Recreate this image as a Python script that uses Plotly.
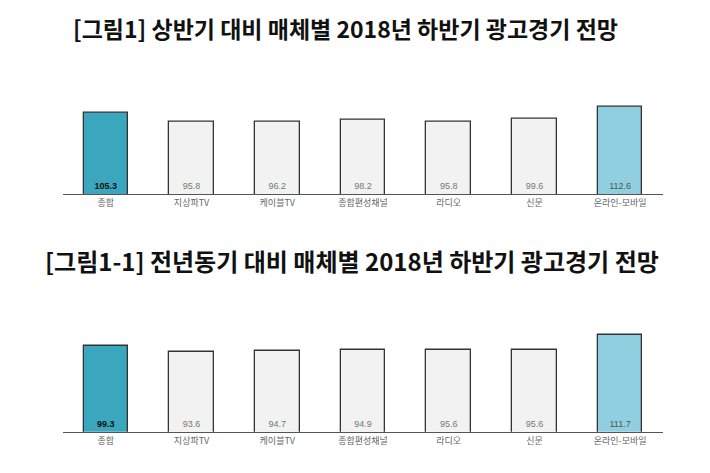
import plotly.graph_objects as go

categories = ["종합", "지상파TV", "케이블TV", "종합편성채널", "라디오", "신문", "온라인-모바일"]
vs_prev_half = [105.3, 95.8, 96.2, 98.2, 95.8, 99.6, 112.6]
vs_prev_year = [99.3, 93.6, 94.7, 94.9, 95.6, 95.6, 111.7]

title_1 = "[그림1] 상반기 대비 매체별 2018년 하반기 광고경기 전망"
title_2 = "[그림1-1] 전년동기 대비 매체별 2018년 하반기 광고경기 전망"

bar_colors = ["#3ba7bf"] + ["#f2f2f2"] * 5 + ["#8fcfe0"]
text_colors = ["#111111"] + ["#777777"] * 5 + ["#555555"]
font = "Noto Sans CJK KR"

fig = go.Figure()
for vals, ax, lo in [(vs_prev_half, "", 16), (vs_prev_year, "2", 8)]:
    fig.add_trace(go.Bar(
        x=categories, y=vals, width=0.52,
        xaxis="x" + ax, yaxis="y" + ax,
        marker=dict(color=bar_colors, line=dict(color="#333333", width=1.3)),
        hoverinfo="skip", showlegend=False,
    ))
    # value labels near the bottom of each bar
    fig.add_trace(go.Scatter(
        x=categories, y=[lo + 8] * len(vals), mode="text",
        text=[f"<b>{v:.1f}</b>" if i == 0 else f"{v:.1f}" for i, v in enumerate(vals)],
        textfont=dict(size=9, color=text_colors, family="Arial"),
        xaxis="x" + ax, yaxis="y" + ax, hoverinfo="skip", showlegend=False,
    ))

xcommon = dict(domain=[55 / 710, 655 / 710], showline=True, linecolor="#555555",
               ticks="", tickfont=dict(size=9, color="#666666", family=font),
               showgrid=False)
fig.update_layout(
    width=710, height=473, margin=dict(l=0, r=0, t=0, b=0),
    paper_bgcolor="white", plot_bgcolor="white", bargap=0,
    xaxis=dict(**xcommon, anchor="y"),
    xaxis2=dict(**xcommon, anchor="y2"),
    yaxis=dict(domain=[0.607, 0.825], range=[16, 130], visible=False),
    yaxis2=dict(domain=[0.104, 0.330], range=[8, 122], visible=False),
    annotations=[
        dict(text=f"<b>{title_1}</b>", x=0.475, y=1 - 20 / 473, xref="paper", yref="paper",
             yanchor="middle", showarrow=False, font=dict(size=23, color="#111111", family=font)),
        dict(text=f"<b>{title_2}</b>", x=0.485, y=1 - 252 / 473, xref="paper", yref="paper",
             yanchor="middle", showarrow=False, font=dict(size=24, color="#111111", family=font)),
    ],
)

fig.write_html("out.html")
